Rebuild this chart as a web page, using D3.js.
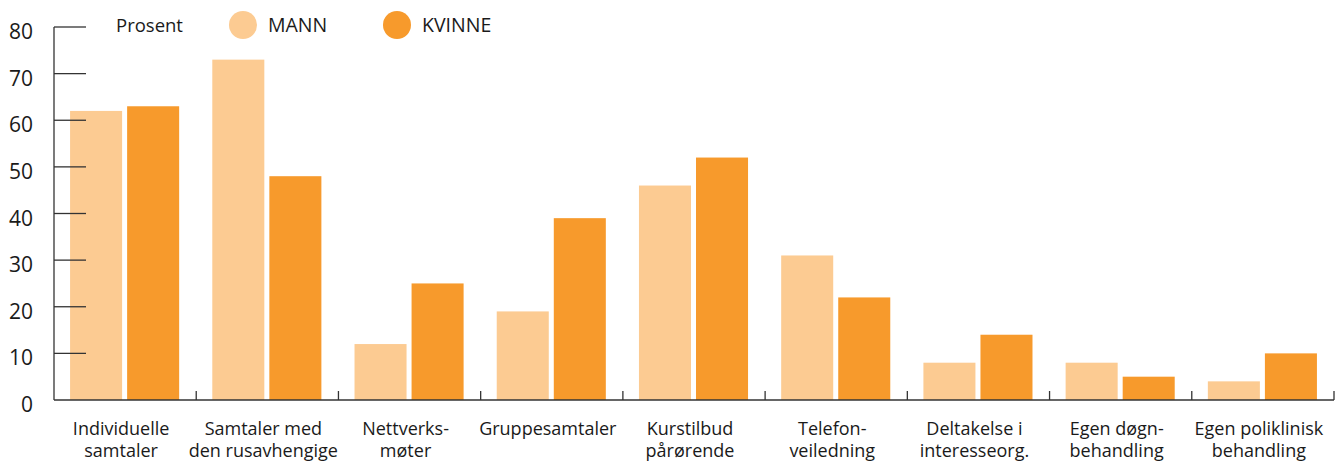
<!DOCTYPE html>
<html>
<head>
<meta charset="utf-8">
<script src="https://cdn.jsdelivr.net/npm/d3@7"></script>
<style>
  body { margin: 0; background: #fff; }
  svg text { font-family: "Open Sans", "Noto Sans", sans-serif; fill: #1a1a1a; }
</style>
</head>
<body>
<div class="chart-container"></div>
<script>
// Categories (each label split on its line breaks)
const categories = [
  ["Individuelle", "samtaler"],
  ["Samtaler med", "den rusavhengige"],
  ["Nettverks-", "møter"],
  ["Gruppesamtaler"],
  ["Kurstilbud", "pårørende"],
  ["Telefon-", "veiledning"],
  ["Deltakelse i", "interesseorg."],
  ["Egen døgn-", "behandling"],
  ["Egen poliklinisk", "behandling"]
]
const series = ["MANN", "KVINNE"]
const mann   = [62, 73, 12, 19, 46, 31, 8, 8, 4]
const kvinne = [63, 48, 25, 39, 52, 22, 14, 5, 10]
const yTicks = [0, 10, 20, 30, 40, 50, 60, 70, 80]
const unitLabel = "Prosent"

const colors = {MANN: "#FCCB92", KVINNE: "#F79A2C"}

const width = 1335, height = 465
const margin = {top: 27, right: 1, bottom: 65, left: 54}

const svg = d3.select(".chart-container").append("svg")
  .attr("width", width)
  .attr("height", height)

// category scale, one band per group, no padding so band edges = separator ticks
const x0 = d3.scaleBand()
  .domain(d3.range(categories.length))
  .range([margin.left, width - margin.right])

// bars inside each band
const bw = x0.bandwidth()
const x1 = d3.scaleBand()
  .domain(series)
  .range([bw * 0.113, bw * 0.880])
  .paddingInner(0.088)

const y = d3.scaleLinear()
  .domain([0, 80])
  .range([height - margin.bottom, margin.top])

const data = categories.map((c, i) => ({i, MANN: mann[i], KVINNE: kvinne[i]}))

// bars
const groups = svg.append("g").selectAll("g")
  .data(data)
  .join("g")
  .attr("transform", d => `translate(${x0(d.i)},0)`)

groups.selectAll("rect")
  .data(d => series.map(s => ({s, v: d[s]})))
  .join("rect")
  .attr("x", d => x1(d.s))
  .attr("width", x1.bandwidth())
  .attr("y", d => y(d.v))
  .attr("height", d => y(0) - y(d.v))
  .attr("fill", d => colors[d.s])

// y axis: ticks pointing right, labels on the left
const yAxis = svg.append("g")
  .attr("transform", `translate(${margin.left},0)`)
yAxis.append("line")
  .attr("y1", y(0)).attr("y2", y(80))
  .attr("stroke", "#333").attr("stroke-width", 1.3)
yAxis.selectAll(".tk")
  .data(yTicks.filter(t => t > 0))
  .join("line")
  .attr("class", "tk")
  .attr("x1", 0).attr("x2", 32)
  .attr("y1", d => y(d)).attr("y2", d => y(d))
  .attr("stroke", "#333").attr("stroke-width", 1.3)
yAxis.selectAll("text")
  .data(yTicks)
  .join("text")
  .attr("x", -21)
  .attr("y", d => y(d) + 12)
  .attr("text-anchor", "end")
  .attr("font-size", 21)
  .text(d => d)

// x axis baseline with upward separator ticks
const xAxis = svg.append("g")
xAxis.append("line")
  .attr("x1", margin.left).attr("x2", width - margin.right)
  .attr("y1", y(0)).attr("y2", y(0))
  .attr("stroke", "#333").attr("stroke-width", 1.3)
xAxis.selectAll(".sep")
  .data(d3.range(1, categories.length + 1))
  .join("line")
  .attr("class", "sep")
  .attr("x1", i => x0.step() * i + margin.left).attr("x2", i => x0.step() * i + margin.left)
  .attr("y1", y(0)).attr("y2", y(0) - 9)
  .attr("stroke", "#333").attr("stroke-width", 1.3)

// category labels, squeezed a little so the second line stays inside the frame
const labels = xAxis.selectAll(".lbl")
  .data(categories)
  .join("text")
  .attr("class", "lbl")
  .attr("text-anchor", "middle")
  .attr("font-size", 18)
  .attr("transform", (d, i) => `translate(${x0(i) + bw / 2 - 4},${y(0) + 35})`)
labels.selectAll("tspan")
  .data(d => d)
  .join("tspan")
  .attr("x", 0)
  .attr("y", (d, j) => j * 22)
  .text(d => d)

// legend
const legend = svg.append("g")
legend.append("text")
  .attr("x", 116).attr("y", 32)
  .attr("font-size", 18.5)
  .text(unitLabel)
const legendX = [243, 397]
series.forEach((s, i) => {
  legend.append("circle")
    .attr("cx", legendX[i]).attr("cy", 25).attr("r", 14)
    .attr("fill", colors[s])
  legend.append("text")
    .attr("x", legendX[i] + 25).attr("y", 32)
    .attr("font-size", 19.5)
    .text(s)
})
</script>
</body>
</html>
